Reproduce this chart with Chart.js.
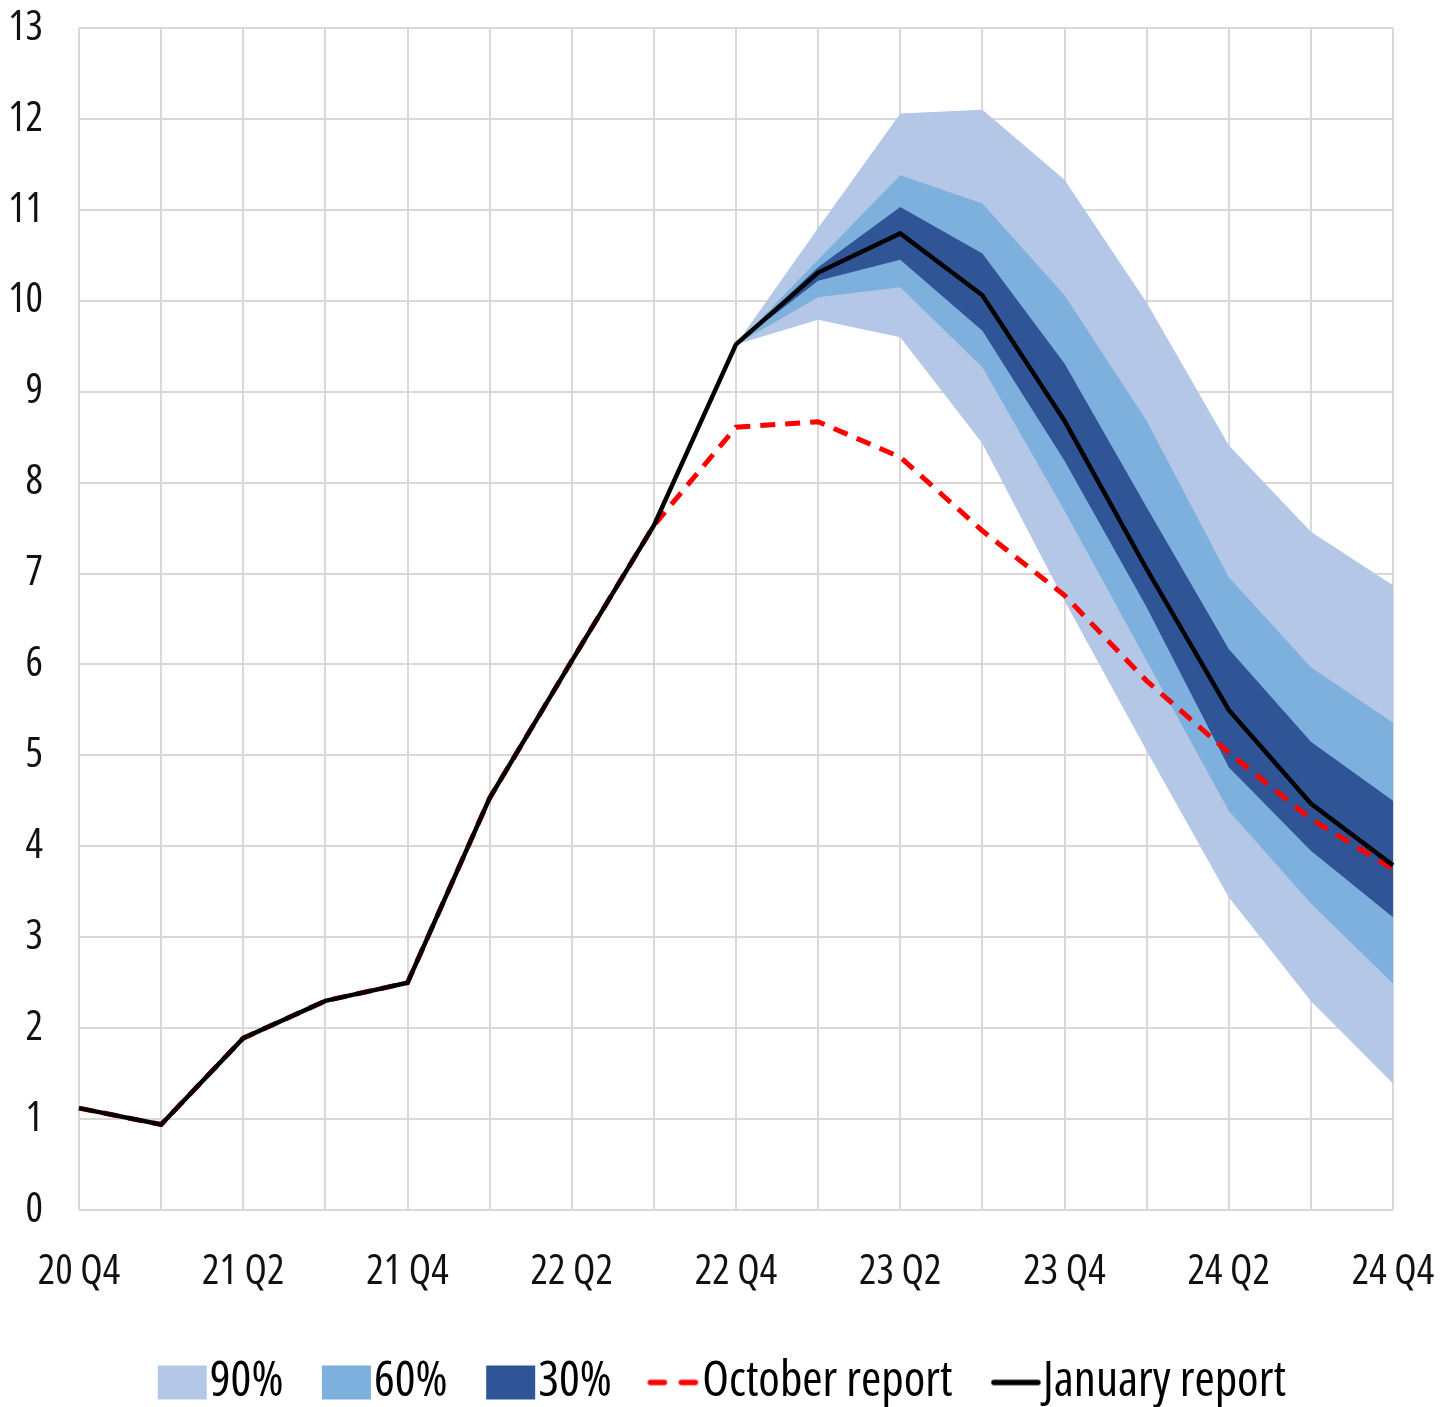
<!DOCTYPE html>
<html>
<head>
<meta charset="utf-8">
<script src="https://cdn.jsdelivr.net/npm/chart.js@4.4.1/dist/chart.umd.min.js"></script>
<style>
  html, body { margin: 0; padding: 0; background: #ffffff; }
  #wrap { width: 1453px; height: 1407px; position: relative; }
</style>
</head>
<body>
<div id="wrap"><canvas id="myChart"></canvas></div>
<script>
// Quý (trục hoành)
const quarters = ['20 Q4', '21 Q1', '21 Q2', '21 Q3', '21 Q4', '22 Q1', '22 Q2', '22 Q3', '22 Q4',
                  '23 Q1', '23 Q2', '23 Q3', '23 Q4', '24 Q1', '24 Q2', '24 Q3', '24 Q4'];
const yTicks = [0, 1, 2, 3, 4, 5, 6, 7, 8, 9, 10, 11, 12, 13];

// Đường chính
const januaryReport = [1.12, 0.94, 1.89, 2.3, 2.5, 4.53, 6.04, 7.53, 9.52, 10.31, 10.74, 10.06, 8.68, 7.05, 5.5, 4.47, 3.79];
const octoberReport = [1.12, 0.94, 1.89, 2.3, 2.5, 4.53, 6.04, 7.53, 8.61, 8.67, 8.28, 7.47, 6.76, 5.82, 5.03, 4.3, 3.75];

// Dải xác suất (từ 22 Q4 trở đi)
const pre = [null, null, null, null, null, null, null, null];
const band90Upper = pre.concat([9.52, 10.8, 12.06, 12.1, 11.33, 9.98, 8.41, 7.46, 6.87]);
const band90Lower = pre.concat([9.52, 9.79, 9.6, 8.43, 6.7, 5.05, 3.44, 2.3, 1.39]);
const band60Upper = pre.concat([9.52, 10.45, 11.38, 11.07, 10.06, 8.68, 6.96, 5.97, 5.36]);
const band60Lower = pre.concat([9.52, 10.04, 10.15, 9.27, 7.69, 6.04, 4.39, 3.37, 2.49]);
const band30Upper = pre.concat([9.52, 10.37, 11.03, 10.52, 9.31, 7.73, 6.17, 5.15, 4.5]);
const band30Lower = pre.concat([9.52, 10.22, 10.45, 9.67, 8.24, 6.63, 4.87, 3.95, 3.22]);

const legendNames = ['90%', '60%', '30%', 'October report', 'January report'];

const c90 = '#B4C7E7';
const c60 = '#7EB0DE';
const c30 = '#2F5597';

const fontFamily = "'Open Sans', sans-serif";
const axisFontSize = 41;
const legendFontSize = 49;
const markerWidth = 50;

// Ký hiệu chú giải: ảnh nhỏ, phần vẽ nằm sát bên phải để gần chữ hơn
function makeMarker(kind, color) {
    const c = document.createElement('canvas');
    const w = markerWidth + legendFontSize;
    c.width = w;
    c.height = 36;
    const g = c.getContext('2d');
    if (kind === 'box') {
        g.fillStyle = color;
        g.fillRect(w - 3 - 49, 1, 49, 34);
    } else {
        g.strokeStyle = color;
        g.lineWidth = 5.5;
        g.lineCap = 'round';
        g.beginPath();
        if (kind === 'dash') {
            g.moveTo(w - 6 - 15, 18); g.lineTo(w - 7, 18);
            g.moveTo(w - 6 - 15 - 16 - 15, 18); g.lineTo(w - 6 - 15 - 16 - 1, 18);
        } else {
            g.moveTo(w - 3 - 46, 18); g.lineTo(w - 5, 18);
        }
        g.stroke();
    }
    return c;
}

function band(data, color, fill) {
    return {
        data: data,
        borderWidth: 0,
        borderColor: color,
        backgroundColor: color,
        pointRadius: 0,
        fill: fill,
        tension: 0,
        spanGaps: false
    };
}

const markers = [
    makeMarker('box', c90),
    makeMarker('box', c60),
    makeMarker('box', c30),
    makeMarker('dash', '#FF0000'),
    makeMarker('line', '#000000')
];

// Dời chú giải một chút cho khớp hình gốc
const legendShift = {
    id: 'legendShift',
    afterLayout: function(chart) {
        const lg = chart.legend;
        if (!lg) return;
        lg.left += 14; lg.right += 14;
        lg.top += 10; lg.bottom += 10;
    }
};

const ctx = document.getElementById('myChart').getContext('2d');
const chart = new Chart(ctx, {
    type: 'line',
    data: {
        labels: quarters,
        datasets: [
            { label: 'January report', data: januaryReport, borderColor: '#000000', borderWidth: 4.5,
              pointRadius: 0, fill: false, tension: 0 },
            { label: 'October report', data: octoberReport, borderColor: '#FF0000', borderWidth: 5,
              borderDash: [15, 10], pointRadius: 0, fill: false, tension: 0 },
            band(band30Upper, c30, '+1'),
            band(band30Lower, c30, false),
            band(band60Upper, c60, '+1'),
            band(band60Lower, c60, false),
            band(band90Upper, c90, '+1'),
            band(band90Lower, c90, false)
        ]
    },
    plugins: [legendShift],
    options: {
        responsive: true,
        maintainAspectRatio: false,
        animation: false,
        layout: {
            autoPadding: false,
            padding: { left: 0, right: 60, top: 28, bottom: 0 }
        },
        plugins: {
            tooltip: { enabled: false },
            legend: {
                display: true,
                position: 'bottom',
                labels: {
                    color: '#111111',
                    font: { family: fontFamily, size: legendFontSize, weight: 'condensed', lineHeight: 1 },
                    boxHeight: 36,
                    padding: 16,
                    usePointStyle: true,
                    pointStyleWidth: markerWidth,
                    generateLabels: function() {
                        return legendNames.map((name, i) => ({
                            text: name,
                            pointStyle: markers[i],
                            fillStyle: 'transparent',
                            strokeStyle: 'transparent',
                            lineWidth: 0
                        }));
                    }
                }
            }
        },
        scales: {
            x: {
                grid: { color: '#D9D9D9', lineWidth: 2, drawTicks: false },
                border: { display: false },
                afterFit: function(scale) {
                    scale.height = 122;
                    scale.paddingLeft = 0;
                    scale.paddingRight = 0;
                },
                ticks: {
                    autoSkip: false,
                    maxRotation: 0,
                    color: '#111111',
                    padding: 38,
                    font: { family: fontFamily, size: axisFontSize, weight: 'condensed' },
                    callback: function(value, index) {
                        return index % 2 === 0 ? quarters[index] : '';
                    }
                }
            },
            y: {
                min: 0,
                max: 13,
                grid: { color: '#D9D9D9', lineWidth: 2, drawTicks: false },
                border: { display: false },
                afterFit: function(scale) {
                    scale.width = 79;
                    scale.paddingTop = 0;
                    scale.paddingBottom = 0;
                },
                afterBuildTicks: function(scale) {
                    scale.ticks = yTicks.map(v => ({ value: v }));
                },
                ticks: {
                    color: '#111111',
                    padding: 36,
                    font: { family: fontFamily, size: axisFontSize, weight: 'condensed' }
                }
            }
        }
    }
});
</script>
</body>
</html>
